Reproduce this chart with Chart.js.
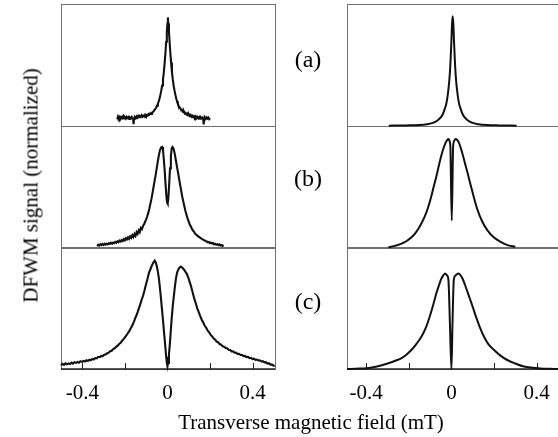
<!DOCTYPE html>
<html>
<head>
<meta charset="utf-8">
<script src="https://cdn.jsdelivr.net/npm/chart.js@4.4.1/dist/chart.umd.min.js"></script>
<style>
    html, body { margin: 0; padding: 0; background: #fff; overflow: hidden; }
    body { width: 558px; height: 437px; position: relative; font-family: "Liberation Serif", "Times New Roman", serif; color: #000; }
    .col { position: absolute; top: 0; height: 437px; }
    #leftCol { left: 0; width: 290px; }
    #rightCol { left: 300px; width: 262px; }
    .tag { position: absolute; left: 288px; width: 40px; text-align: center; font-size: 24px; line-height: 24px; }
    #yTitle { position: absolute; left: 31px; top: 185px; width: 300px; margin-left: -150px; margin-top: -10.5px;
              font-size: 21px; line-height: 21px; text-align: center; white-space: nowrap; transform: rotate(-90deg); }
    #xTitle { position: absolute; left: 161px; top: 412px; width: 300px; font-size: 21px; line-height: 21px;
              text-align: center; white-space: nowrap; }
</style>
</head>
<body>
<div class="col" id="leftCol"><canvas id="leftChart"></canvas></div>
<div class="col" id="rightCol"><canvas id="rightChart"></canvas></div>
<div class="tag" style="top:47px">(a)</div>
<div class="tag" style="top:166px">(b)</div>
<div class="tag" style="top:289px">(c)</div>
<div id="yTitle">DFWM signal (normalized)</div>
<div id="xTitle">Transverse magnetic field (mT)</div>
<script>
// 坐标轴刻度
const X_TICKS = [-0.4, -0.2, 0, 0.2, 0.4];
const X_TICK_LABELS = ['-0.4', '', '0', '', '0.4'];
const LEFT_RANGE = [-0.5, 0.505];
const RIGHT_RANGE = [-0.49, 0.5];
const PANEL_IDS = ['ya', 'yb', 'yc'];

// 实验数据 (左列) [field, signal]
const LEFT_A = [
    [-0.236,0.052],[-0.232,0.075],[-0.228,0.06],[-0.224,0.072],[-0.22,0.055],[-0.216,0.07],[-0.212,0.062],[-0.208,0.078],
    [-0.204,0.06],[-0.2,0.068],[-0.196,0.058],[-0.192,0.072],[-0.188,0.062],[-0.184,0.07],[-0.18,0.055],[-0.176,0.066],
    [-0.172,0.06],[-0.168,0.072],[-0.164,0.062],[-0.161,0.05],[-0.159,0.012],[-0.157,0.058],[-0.153,0.07],[-0.149,0.062],
    [-0.145,0.076],[-0.141,0.066],[-0.137,0.08],[-0.133,0.07],[-0.129,0.078],[-0.125,0.072],[-0.121,0.086],[-0.117,0.074],
    [-0.113,0.082],[-0.109,0.076],[-0.105,0.09],[-0.101,0.08],[-0.097,0.088],[-0.093,0.082],[-0.089,0.095],[-0.085,0.09],
    [-0.081,0.1],[-0.077,0.096],[-0.073,0.108],[-0.069,0.112],[-0.065,0.118],[-0.061,0.13],[-0.057,0.138],[-0.053,0.15],
    [-0.049,0.165],[-0.045,0.18],[-0.041,0.2],[-0.037,0.225],[-0.033,0.255],[-0.029,0.29],[-0.025,0.33],[-0.021,0.38],
    [-0.017,0.44],[-0.013,0.52],[-0.009,0.61],[-0.006,0.69],[-0.003,0.77],[0.0,0.84],[0.002,0.89],[0.004,0.84],
    [0.007,0.77],[0.01,0.69],[0.013,0.61],[0.017,0.52],[0.021,0.44],[0.025,0.38],[0.029,0.33],[0.033,0.29],
    [0.037,0.255],[0.041,0.225],[0.045,0.2],[0.049,0.178],[0.053,0.162],[0.057,0.15],[0.061,0.14],[0.065,0.125],
    [0.069,0.128],[0.073,0.112],[0.077,0.116],[0.081,0.1],[0.085,0.105],[0.089,0.092],[0.093,0.098],[0.097,0.085],
    [0.101,0.092],[0.105,0.08],[0.109,0.088],[0.113,0.074],[0.117,0.082],[0.121,0.07],[0.125,0.078],[0.129,0.066],
    [0.133,0.076],[0.137,0.062],[0.141,0.072],[0.145,0.06],[0.149,0.07],[0.153,0.058],[0.157,0.068],[0.161,0.06],
    [0.165,0.066],[0.168,0.05],[0.17,0.01],[0.172,0.052],[0.176,0.066],[0.18,0.056],[0.184,0.068],[0.188,0.058],
    [0.192,0.066],[0.196,0.054],[0.2,0.062]
];
const LEFT_B = [
    [-0.33,0.01],[-0.325,0.022],[-0.32,0.015],[-0.315,0.025],[-0.31,0.018],[-0.305,0.028],[-0.3,0.02],[-0.295,0.03],
    [-0.29,0.022],[-0.285,0.03],[-0.28,0.025],[-0.275,0.035],[-0.27,0.028],[-0.265,0.038],[-0.26,0.03],[-0.255,0.04],
    [-0.25,0.035],[-0.245,0.045],[-0.24,0.038],[-0.235,0.05],[-0.23,0.042],[-0.225,0.055],[-0.22,0.048],[-0.215,0.06],
    [-0.21,0.052],[-0.205,0.068],[-0.2,0.058],[-0.195,0.075],[-0.19,0.065],[-0.185,0.082],[-0.18,0.07],[-0.175,0.09],
    [-0.17,0.078],[-0.165,0.1],[-0.16,0.085],[-0.155,0.11],[-0.15,0.095],[-0.145,0.125],[-0.14,0.11],[-0.135,0.14],
    [-0.13,0.125],[-0.125,0.16],[-0.12,0.15],[-0.115,0.175],[-0.11,0.19],[-0.105,0.21],[-0.1,0.23],[-0.095,0.255],
    [-0.09,0.285],[-0.085,0.32],[-0.08,0.36],[-0.075,0.4],[-0.07,0.45],[-0.065,0.5],[-0.06,0.55],[-0.055,0.6],
    [-0.05,0.655],[-0.045,0.71],[-0.04,0.76],[-0.035,0.8],[-0.03,0.82],[-0.025,0.825],[-0.021,0.8],[-0.017,0.72],
    [-0.013,0.63],[-0.009,0.52],[-0.005,0.42],[-0.002,0.37],[0.001,0.36],[0.004,0.4],[0.008,0.52],[0.012,0.65],
    [0.016,0.75],[0.02,0.815],[0.024,0.825],[0.029,0.81],[0.034,0.77],[0.039,0.72],[0.044,0.67],[0.049,0.62],
    [0.054,0.57],[0.059,0.52],[0.064,0.47],[0.069,0.42],[0.074,0.38],[0.079,0.34],[0.084,0.3],[0.089,0.27],
    [0.094,0.24],[0.099,0.215],[0.104,0.19],[0.109,0.175],[0.114,0.155],[0.119,0.14],[0.124,0.13],[0.129,0.115],
    [0.134,0.105],[0.139,0.098],[0.144,0.09],[0.149,0.085],[0.154,0.078],[0.159,0.072],[0.164,0.068],[0.169,0.06],
    [0.174,0.058],[0.179,0.05],[0.184,0.05],[0.189,0.042],[0.194,0.045],[0.199,0.035],[0.204,0.04],[0.209,0.032],
    [0.214,0.035],[0.219,0.025],[0.224,0.03],[0.229,0.022],[0.234,0.026],[0.239,0.018],[0.244,0.024],[0.249,0.016],
    [0.254,0.02],[0.259,0.012],[0.264,0.018]
];
const LEFT_C = [
    [-0.5,0.03],[-0.493,0.042],[-0.486,0.034],[-0.479,0.046],[-0.472,0.038],[-0.465,0.045],[-0.458,0.04],[-0.451,0.052],
    [-0.444,0.044],[-0.437,0.055],[-0.43,0.05],[-0.423,0.058],[-0.416,0.052],[-0.409,0.063],[-0.402,0.058],[-0.395,0.066],
    [-0.388,0.062],[-0.381,0.072],[-0.374,0.066],[-0.367,0.076],[-0.36,0.072],[-0.353,0.082],[-0.346,0.078],[-0.339,0.09],
    [-0.332,0.088],[-0.325,0.1],[-0.318,0.097],[-0.311,0.108],[-0.304,0.106],[-0.297,0.118],[-0.29,0.12],[-0.283,0.13],
    [-0.276,0.134],[-0.269,0.146],[-0.262,0.15],[-0.255,0.164],[-0.248,0.17],[-0.241,0.182],[-0.234,0.192],[-0.227,0.205],
    [-0.22,0.215],[-0.213,0.232],[-0.206,0.245],[-0.199,0.262],[-0.192,0.278],[-0.185,0.298],[-0.178,0.315],[-0.171,0.34],
    [-0.164,0.362],[-0.157,0.392],[-0.15,0.425],[-0.143,0.452],[-0.136,0.49],[-0.129,0.525],[-0.122,0.565],[-0.115,0.6],
    [-0.108,0.645],[-0.101,0.695],[-0.094,0.74],[-0.087,0.79],[-0.08,0.82],[-0.073,0.852],[-0.066,0.875],[-0.06,0.89],
    [-0.055,0.875],[-0.05,0.845],[-0.045,0.8],[-0.04,0.74],[-0.035,0.66],[-0.03,0.57],[-0.025,0.475],[-0.02,0.38],
    [-0.015,0.28],[-0.01,0.18],[-0.006,0.1],[-0.003,0.05],[0.0,0.022],[0.003,0.05],[0.007,0.12],[0.011,0.2],
    [0.015,0.3],[0.02,0.42],[0.025,0.52],[0.03,0.6],[0.035,0.68],[0.04,0.745],[0.045,0.79],[0.05,0.815],
    [0.056,0.832],[0.063,0.842],[0.07,0.832],[0.077,0.818],[0.084,0.8],[0.091,0.782],[0.098,0.75],[0.105,0.712],
    [0.112,0.672],[0.119,0.625],[0.126,0.578],[0.133,0.54],[0.14,0.498],[0.147,0.468],[0.154,0.435],[0.161,0.405],
    [0.168,0.382],[0.175,0.355],[0.182,0.338],[0.189,0.315],[0.196,0.302],[0.203,0.28],[0.21,0.268],[0.217,0.25],
    [0.224,0.242],[0.231,0.225],[0.238,0.22],[0.245,0.205],[0.252,0.2],[0.259,0.186],[0.266,0.184],[0.273,0.172],
    [0.28,0.17],[0.287,0.158],[0.294,0.156],[0.301,0.145],[0.308,0.146],[0.315,0.134],[0.322,0.135],[0.329,0.124],
    [0.336,0.125],[0.343,0.115],[0.35,0.116],[0.357,0.106],[0.364,0.108],[0.371,0.098],[0.378,0.1],[0.385,0.09],
    [0.392,0.092],[0.399,0.082],[0.406,0.085],[0.413,0.075],[0.42,0.078],[0.427,0.07],[0.434,0.072],[0.441,0.062],
    [0.448,0.064],[0.455,0.055],[0.462,0.056],[0.469,0.045],[0.476,0.048],[0.483,0.036],[0.49,0.038],[0.497,0.028],
    [0.504,0.024]
];

// 理论计算 (右列)
const RIGHT_A = [
    [-0.294,0],[-0.214,0.002],[-0.154,0.005],[-0.114,0.012],[-0.084,0.025],[-0.064,0.045],[-0.049,0.07],[-0.039,0.1],
    [-0.029,0.15],[-0.024,0.18],[-0.019,0.23],[-0.014,0.3],[-0.01,0.37],[-0.006,0.47],[-0.003,0.58],[0.0,0.7],
    [0.003,0.84],[0.006,0.9],[0.009,0.84],[0.012,0.7],[0.015,0.58],[0.018,0.47],[0.022,0.37],[0.026,0.3],
    [0.031,0.23],[0.036,0.18],[0.041,0.15],[0.051,0.1],[0.061,0.07],[0.076,0.045],[0.096,0.025],[0.126,0.012],
    [0.166,0.005],[0.226,0.002],[0.306,0]
];
const RIGHT_B = [
    [-0.296,0.0],[-0.27,0.01],[-0.25,0.02],[-0.234,0.03],[-0.21,0.052],[-0.19,0.078],[-0.172,0.11],[-0.155,0.152],
    [-0.14,0.2],[-0.126,0.25],[-0.11,0.325],[-0.095,0.415],[-0.083,0.5],[-0.071,0.58],[-0.06,0.665],[-0.048,0.75],
    [-0.038,0.81],[-0.028,0.857],[-0.02,0.882],[-0.014,0.89],[-0.009,0.875],[-0.005,0.83],[0.0015,0.22],[0.008,0.83],
    [0.013,0.875],[0.02,0.89],[0.027,0.882],[0.035,0.86],[0.044,0.815],[0.054,0.755],[0.066,0.675],[0.079,0.59],
    [0.092,0.5],[0.107,0.4],[0.122,0.31],[0.145,0.21],[0.169,0.14],[0.2,0.08],[0.231,0.044],[0.26,0.02],[0.3,0.004]
];
const RIGHT_C = [
    [-0.49,0],[-0.45,0.003],[-0.397,0.007],[-0.35,0.02],[-0.296,0.047],[-0.26,0.07],[-0.234,0.09],[-0.21,0.12],
    [-0.188,0.156],[-0.165,0.205],[-0.141,0.265],[-0.12,0.34],[-0.102,0.43],[-0.085,0.53],[-0.071,0.62],[-0.058,0.69],
    [-0.048,0.74],[-0.038,0.77],[-0.029,0.785],[-0.021,0.77],[-0.014,0.73],[-0.007,0.37],[0.0,0.0],[0.005,0.37],
    [0.011,0.73],[0.02,0.77],[0.033,0.785],[0.043,0.77],[0.053,0.74],[0.068,0.67],[0.084,0.59],[0.1,0.51],
    [0.115,0.43],[0.133,0.345],[0.153,0.265],[0.175,0.2],[0.2,0.156],[0.23,0.11],[0.262,0.074],[0.3,0.045],
    [0.34,0.02],[0.38,0.01],[0.417,0.005],[0.46,0.002],[0.5,0]
];

const FONT_FAMILY = '"Liberation Serif", "Times New Roman", serif';

/**
 * 画框 + 向内的刻度线
 */
const panelFrame = {
    id: 'panelFrame',
    beforeDatasetsDraw(chart) {
        const {ctx, chartArea: area, scales} = chart;
        const xs = scales.x;
        ctx.save();
        ctx.strokeStyle = '#707070';
        ctx.lineWidth = 1;
        PANEL_IDS.forEach(id => {
            const s = scales[id];
            ctx.strokeRect(Math.round(area.left) + 0.5, Math.round(s.top) + 0.5,
                Math.round(area.width), Math.round(s.bottom - s.top));
        });
        // 底部坐标轴
        ctx.strokeStyle = '#222';
        ctx.lineWidth = 1.5;
        ctx.beginPath();
        ctx.moveTo(area.left, area.bottom);
        ctx.lineTo(area.right, area.bottom);
        ctx.stroke();
        // 刻度
        ctx.lineWidth = 1;
        ctx.beginPath();
        xs.ticks.forEach(t => {
            const px = Math.round(xs.getPixelForValue(t.value)) + 0.5;
            ctx.moveTo(px, area.bottom);
            ctx.lineTo(px, area.bottom - 6);
        });
        ctx.stroke();
        ctx.restore();
    }
};

function panelScale(weight) {
    return {
        type: 'linear',
        min: 0,
        max: 1,
        display: false,
        stack: 'panels',
        stackWeight: 1,
        weight: weight
    };
}

function buildColumn(canvasId, series, range, padLeft, padRight, smooth) {
    return new Chart(document.getElementById(canvasId), {
        type: 'line',
        data: {
            datasets: series.map((data, i) => ({
                data: data,
                yAxisID: PANEL_IDS[i],
                borderColor: '#111',
                borderWidth: smooth ? 2 : 2.1,
                pointRadius: 0,
                fill: false,
                tension: 0,
                cubicInterpolationMode: smooth ? 'monotone' : 'default',
                clip: 4
            }))
        },
        options: {
            responsive: true,
            maintainAspectRatio: false,
            animation: false,
            layout: { padding: { left: padLeft, right: padRight, top: 4, bottom: 0 } },
            plugins: { legend: { display: false }, tooltip: { enabled: false } },
            scales: {
                x: {
                    type: 'linear',
                    min: range[0],
                    max: range[1],
                    grid: { display: false, drawTicks: false },
                    border: { display: false },
                    afterBuildTicks: s => { s.ticks = X_TICKS.map(v => ({ value: v })); },
                    afterFit: s => { s.height = 68; },
                    ticks: {
                        color: '#000',
                        padding: 12,
                        maxRotation: 0,
                        autoSkip: false,
                        font: { family: FONT_FAMILY, size: 21 },
                        callback: (value, index) => X_TICK_LABELS[index]
                    }
                },
                ya: panelScale(3),
                yb: panelScale(2),
                yc: panelScale(1)
            }
        },
        plugins: [panelFrame]
    });
}

buildColumn('leftChart', [LEFT_A, LEFT_B, LEFT_C], LEFT_RANGE, 61, 15, false);
buildColumn('rightChart', [RIGHT_A, RIGHT_B, RIGHT_C], RIGHT_RANGE, 47, 2, true);
</script>
</body>
</html>
